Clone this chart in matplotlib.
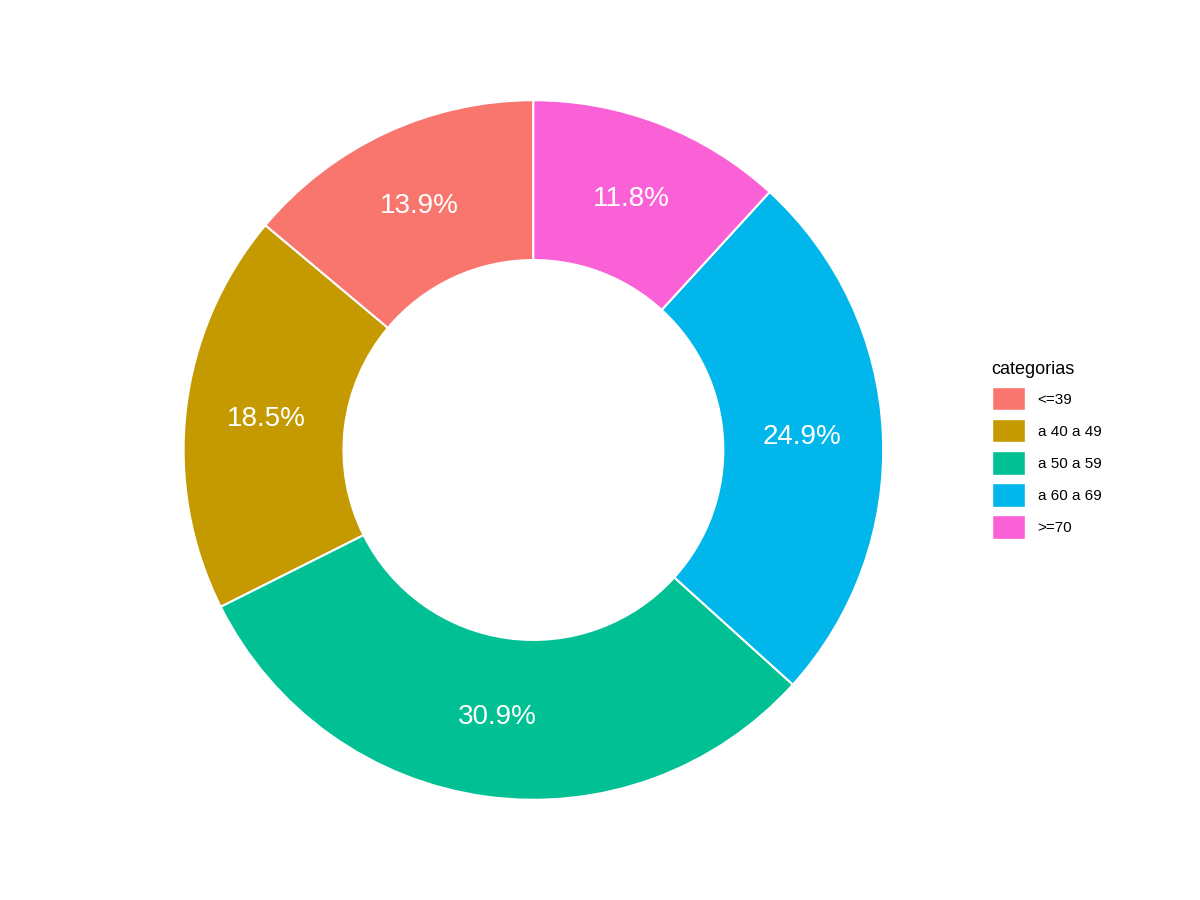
import matplotlib
matplotlib.use("Agg")
import matplotlib.pyplot as plt
from matplotlib.patches import Patch

categorias = ["<=39", "a 40 a 49", "a 50 a 59", "a 60 a 69", ">=70"]
valores = [13.9, 18.5, 30.9, 24.9, 11.8]
cores = ["#F8766D", "#C49A00", "#00C094", "#00B6EB", "#FB61D7"]

fig = plt.figure(figsize=(12, 9), dpi=100)
ax = fig.add_axes([0.153, 0.111, 0.583, 0.778])
wedges, texts, autotexts = ax.pie(
    valores, colors=cores, startangle=90, counterclock=True, radius=1,
    autopct=lambda p: f"{p:.1f}%", pctdistance=0.77,
    wedgeprops=dict(width=0.457, edgecolor="white", linewidth=1.5),
    textprops=dict(color="white", fontsize=20, family="Liberation Sans"))
ax.set_xlim(-1, 1); ax.set_ylim(-1, 1)
ax.set_aspect("equal")

handles = [Patch(facecolor=c, edgecolor="white") for c in cores]
leg = fig.legend(handles, categorias, title="categorias", loc="center left",
                 bbox_to_anchor=(0.815, 0.5), frameon=False,
                 prop=dict(family="Liberation Sans", size=11),
                 title_fontproperties=dict(family="Liberation Sans", size=13),
                 handlelength=2.2, handleheight=2.0, labelspacing=0.55,
                 handletextpad=0.8)
leg._legend_box.align = "left"
fig.savefig("out.png", dpi=100, facecolor="white")
